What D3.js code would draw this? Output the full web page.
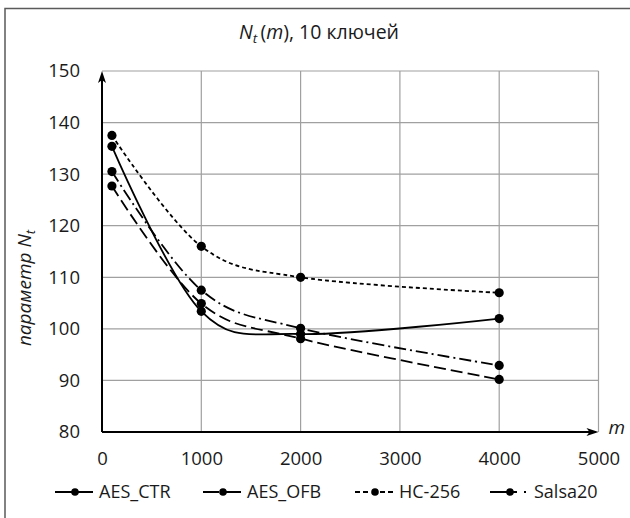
<!DOCTYPE html>
<html>
<head>
<meta charset="utf-8">
<script src="https://cdn.jsdelivr.net/npm/d3@7"></script>
<style>
  html, body { margin: 0; padding: 0; background: #fff; }
  svg { display: block; font-family: "Open Sans", "Noto Sans", sans-serif; }
</style>
</head>
<body>
<svg id="chart" width="630" height="518"></svg>
<script>
// Message length m (x axis)
const mValues = [100, 1000, 2000, 4000];

// Parameter N_t for each cipher
const aesCtr  = [135.4, 103.4, 99.0, 102.0];
const aesOfb  = [127.7, 104.9, 98.1, 90.2];
const hc256   = [137.5, 116.0, 110.0, 107.0];
const salsa20 = [130.5, 107.5, 100.1, 92.9];

const seriesNames = ["AES_CTR", "AES_OFB", "HC-256", "Salsa20"];
const seriesValues = [aesCtr, aesOfb, hc256, salsa20];

const xTicks = [0, 1000, 2000, 3000, 4000, 5000];
const yTicks = [80, 90, 100, 110, 120, 130, 140, 150];

// Line styles: dash pattern in the plot and in the legend sample
const seriesDash = [null, "12,5", "4,3", "12,4,2,4"];
const legendDash = [null, "16,6", "5,3,5,12,5,3,5,10", "27,7,2,10"];
const legendX = [55, 203, 355, 490];

const svg = d3.select("#chart");
const textColor = "#1a1a1a";

// Outer frame (top and left edges)
svg.append("path")
  .attr("d", "M5,520 L5,8.5 L632,8.5")
  .attr("fill", "none")
  .attr("stroke", "#5a5a5a")
  .attr("stroke-width", 1.5);

const x = d3.scaleLinear().domain([0, 5000]).range([102, 598.5]);
const y = d3.scaleLinear().domain([80, 150]).range([432, 71]);

// Grid
const grid = svg.append("g").attr("stroke", "#a0a0a0").attr("stroke-width", 1.2);
grid.selectAll("line.h").data(yTicks.filter(v => v > 80)).join("line")
  .attr("x1", x(0)).attr("x2", x(5000))
  .attr("y1", d => y(d)).attr("y2", d => y(d));
grid.selectAll("line.v").data(xTicks.filter(v => v > 0)).join("line")
  .attr("y1", y(80)).attr("y2", y(150))
  .attr("x1", d => x(d)).attr("x2", d => x(d));

// Tick labels via d3 axes
const yAxis = svg.append("g")
  .attr("transform", `translate(${x(0)},0)`)
  .call(d3.axisLeft(y).tickValues(yTicks).tickSize(0).tickPadding(22).tickFormat(d3.format("d")));
const xAxis = svg.append("g")
  .attr("transform", `translate(0,${y(80)})`)
  .call(d3.axisBottom(x).tickValues(xTicks).tickSize(0).tickPadding(20).tickFormat(d3.format("d")));
[yAxis, xAxis].forEach(a => {
  a.select(".domain").remove();
  a.selectAll("text").attr("font-size", 18.5).attr("fill", textColor)
    .attr("font-family", "\"Open Sans\", sans-serif");
});

// Axis lines with arrowheads
const axes = svg.append("g").attr("stroke", "#000").attr("stroke-width", 2).attr("fill", "none");
axes.append("line").attr("x1", x(0)).attr("y1", y(80)).attr("x2", x(0)).attr("y2", y(150) + 3);
axes.append("line").attr("x1", x(0)).attr("y1", y(80)).attr("x2", x(5000) - 3).attr("y2", y(80));
svg.append("path")
  .attr("d", `M${x(0)},${y(150)} L${x(0) - 4},${y(150) + 12} L${x(0)},${y(150) + 9} L${x(0) + 4},${y(150) + 12} Z`)
  .attr("fill", "#000");
svg.append("path")
  .attr("d", `M${x(5000)},${y(80)} L${x(5000) - 12},${y(80) - 4} L${x(5000) - 9},${y(80)} L${x(5000) - 12},${y(80) + 4} Z`)
  .attr("fill", "#000");

// Axis name "m"
svg.append("text")
  .attr("x", x(5000) + 10).attr("y", y(80) + 2)
  .attr("font-size", 19).attr("font-style", "italic").attr("fill", textColor)
  .text("m");

// Series lines (smoothed)
const line = d3.line()
  .x((d, i) => x(mValues[i]))
  .y(d => y(d))
  .curve(d3.curveCardinal.tension(0));

const series = svg.append("g");
seriesValues.forEach((vals, k) => {
  series.append("path")
    .datum(vals)
    .attr("d", line)
    .attr("fill", "none")
    .attr("stroke", "#000")
    .attr("stroke-width", 1.8)
    .attr("stroke-dasharray", seriesDash[k]);
});
seriesValues.forEach(vals => {
  series.selectAll(null).data(vals).join("circle")
    .attr("cx", (d, i) => x(mValues[i]))
    .attr("cy", d => y(d))
    .attr("r", 4.6)
    .attr("fill", "#000");
});

// Centre a text element (anchor start) on a given x, using its measured length
function centreAt(textSel, cx) {
  const len = textSel.node().getComputedTextLength();
  textSel.attr("x", cx - len / 2);
}

// Title
const title = svg.append("text")
  .attr("y", 39)
  .attr("font-size", 19.5).attr("fill", textColor);
title.append("tspan").attr("font-style", "italic").text("N");
title.append("tspan").attr("font-style", "italic").attr("font-size", 13.5).attr("dy", 4).text("t");
title.append("tspan").attr("dy", -4).text("\u2009(");
title.append("tspan").attr("font-style", "italic").text("m");
title.append("tspan").text("), 10 ключей");
centreAt(title, 319);

// Y axis name
const ylabG = svg.append("g").attr("transform", "translate(31,288) rotate(-90)");
const ylab = ylabG.append("text")
  .attr("y", 0)
  .attr("font-size", 19).attr("font-style", "italic").attr("fill", textColor);
ylab.append("tspan").text("параметр N");
ylab.append("tspan").attr("font-size", 13).attr("dy", 4).text("t");
centreAt(ylab, 0);

// Legend
const ly = 492;
seriesNames.forEach((name, k) => {
  const lx = legendX[k];
  const g = svg.append("g");
  g.append("line")
    .attr("x1", lx).attr("x2", lx + 38).attr("y1", ly).attr("y2", ly)
    .attr("stroke", "#000").attr("stroke-width", 1.8)
    .attr("stroke-dasharray", legendDash[k]);
  g.append("circle").attr("cx", lx + 20).attr("cy", ly).attr("r", 3.8).attr("fill", "#000");
  g.append("text")
    .attr("x", lx + 44).attr("y", ly).attr("dy", "0.35em")
    .attr("font-size", 18).attr("fill", textColor)
    .text(name);
});
</script>
</body>
</html>
